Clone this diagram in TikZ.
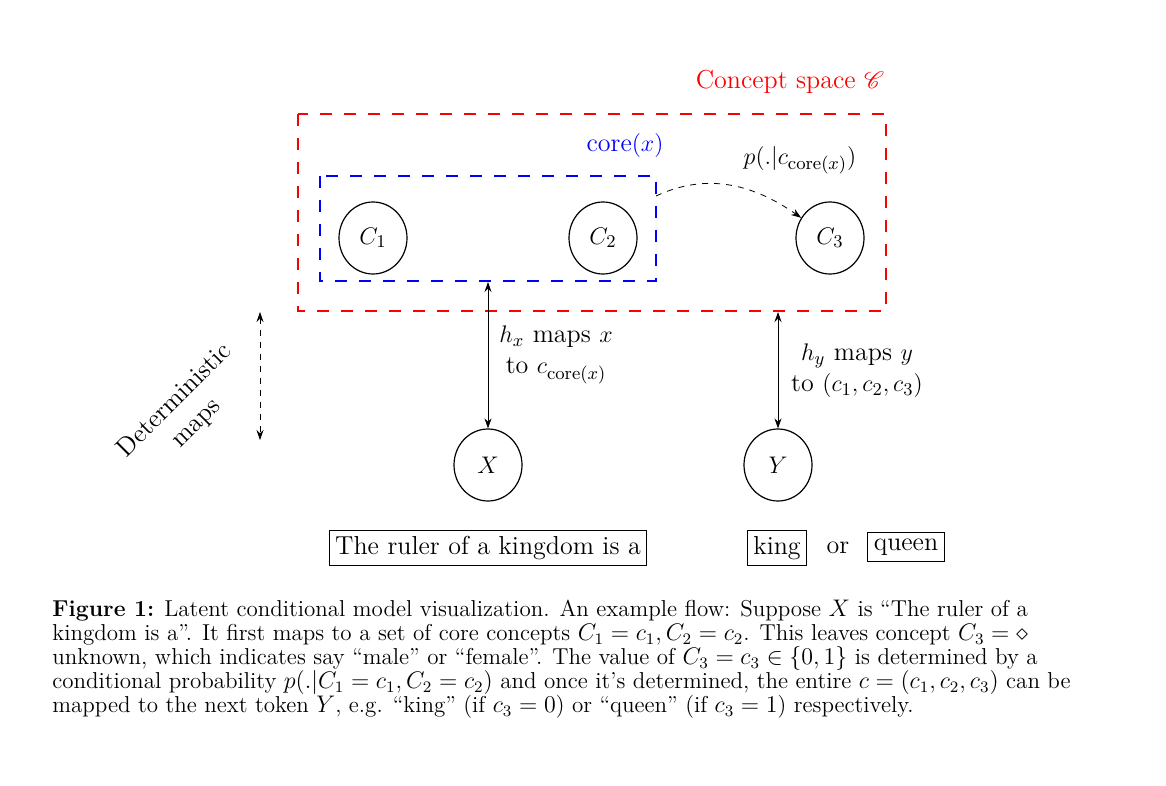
\documentclass[tikz,border=0pt]{standalone}
\usepackage{amsmath,amssymb,mathrsfs}
\usetikzlibrary{shapes.geometric,arrows.meta}
\begin{document}
\begin{tikzpicture}[x=0.5pt,y=-0.5pt,font=\fontsize{13}{15.5}\selectfont,
  cnode/.style={draw,semithick,ellipse,minimum width=34pt,minimum height=36pt,inner sep=0pt},
  tbox/.style={draw,semithick,inner sep=3pt},
  tip/.style={-{Stealth[length=5pt,width=3.5pt]}},
  arr/.style={-{Stealth[length=5pt,width=3.5pt]},thin}]
\useasboundingbox (0,0) rectangle (1166,786);
\draw[red,dashed,semithick,dash pattern=on 6pt off 6pt] (298,114) rectangle (886,311);
\node[text=red] (title) at (790,82) {Concept space $\mathscr{C}$};
\draw[blue,dashed,semithick,dash pattern=on 6pt off 6pt] (320,176) rectangle (656,281);
\coordinate (bb) at (488,282);
\coordinate (rb) at (778,312);
\coordinate (cs) at (656,196);
\node[text=blue] (core) at (625,146) {core$(x)$};
\node[cnode] (c1) at (373,238) {$C_1$};
\node[cnode] (c2) at (603,238) {$C_2$};
\node[cnode] (c3) at (830,238) {$C_3$};
\node[cnode] (x) at (488,465) {$X$};
\node[cnode] (y) at (778,465) {$Y$};
\draw[arr,dashed] (cs) to[out=25,in=145] (c3);
\node (p) at (800,160) {$p(.|c_{\text{core}(x)})$};
\draw[{Stealth[length=5pt,width=3.5pt]}-{Stealth[length=5pt,width=3.5pt]},thin] (bb) -- (x);
\draw[{Stealth[length=5pt,width=3.5pt]}-{Stealth[length=5pt,width=3.5pt]},thin] (rb) -- (y);
\node[align=center] (hx) at (556,355) {$h_x$ maps $x$\\to $c_{\text{core}(x)}$};
\node[align=center] (hy) at (857,371) {$h_y$ maps $y$\\to $(c_1,c_2,c_3)$};
\coordinate (d1) at (260,312);
\coordinate (d2) at (260,440);
\draw[{Stealth[length=5pt,width=3.5pt]}-{Stealth[length=5pt,width=3.5pt]},thin,dashed] (d1) -- (d2);
\node[rotate=45,align=center] (det) at (186,412) {Deterministic\\maps};
\node[tbox] (s) at (488,548) {The ruler of a kingdom is a};
\node[tbox] (k) at (777,548) {king};
\node (or) at (838,548) {or};
\node[tbox] (q) at (906,547) {queen};
\node[anchor=north west,align=left,font=\fontsize{11.5}{12}\selectfont,inner sep=0pt] (cap) at (52,600) {%
\textbf{Figure 1:} Latent conditional model visualization. An example flow: Suppose $X$ is ``The ruler of a\\
kingdom is a''. It first maps to a set of core concepts $C_1=c_1, C_2=c_2$. This leaves concept $C_3=\diamond$\\
unknown, which indicates say ``male'' or ``female''. The value of $C_3=c_3\in\{0,1\}$ is determined by a\\
conditional probability $p(.|C_1=c_1,C_2=c_2)$ and once it's determined, the entire $c=(c_1,c_2,c_3)$ can be\\
mapped to the next token $Y$, e.g. ``king'' (if $c_3=0$) or ``queen'' (if $c_3=1$) respectively.};
\end{tikzpicture}
\end{document}
